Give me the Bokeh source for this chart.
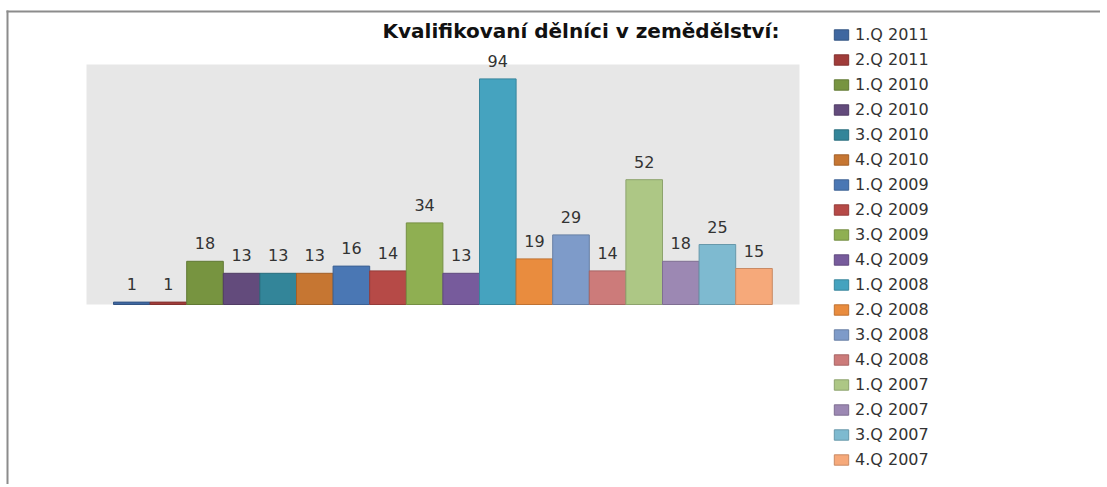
from bokeh.plotting import figure
from bokeh.models import (ColumnDataSource, Range1d, Legend, LegendItem, Label,
                          BoxAnnotation)
from bokeh.core.properties import value
from bokeh.embed import file_html
from bokeh.resources import INLINE

# ---- data ----
categories = ["1.Q 2011", "2.Q 2011", "1.Q 2010", "2.Q 2010", "3.Q 2010", "4.Q 2010",
              "1.Q 2009", "2.Q 2009", "3.Q 2009", "4.Q 2009", "1.Q 2008", "2.Q 2008",
              "3.Q 2008", "4.Q 2008", "1.Q 2007", "2.Q 2007", "3.Q 2007", "4.Q 2007"]
values = [1, 1, 18, 13, 13, 13, 16, 14, 34, 13, 94, 19, 29, 14, 52, 18, 25, 15]
colors = ["#3F67A0", "#A03C3A", "#779440", "#634B7C", "#338599", "#C67632",
          "#4A77B4", "#B64A47", "#8FAF52", "#775B9C", "#45A3BF", "#E98C3E",
          "#7E9BC9", "#CC7B7A", "#ADC785", "#9C88B3", "#7EBAD0", "#F6A97A"]
title_text = "Kvalifikovaní dělníci v zemědělství:"

# ---- layout (page pixels -> data units) ----
W, H = 1100, 484
OX, OY = 0, 0
BAR0_PX, BAR_W_PX = 113.0, 36.6
BASE_PY, UNIT_PY = 304.0, 2.4


def px2x(px):
    return (px - BAR0_PX) / BAR_W_PX


def py2y(py):
    return (BASE_PY - py) / UNIT_PY


def darken(hex_color, f=0.82):
    h = hex_color.lstrip("#")
    r, g, b = (int(h[i:i + 2], 16) for i in (0, 2, 4))
    return "#%02x%02x%02x" % (int(r * f), int(g * f), int(b * f))


line_colors = [darken(c) for c in colors]

source = ColumnDataSource(dict(
    x=[i + 0.5 for i in range(len(values))],
    top=values,
    label=[str(v) for v in values],
    cat=categories,
    color=colors,
    line_color=line_colors,
))

p = figure(width=W, height=H, output_backend="svg", toolbar_location=None, tools="",
           x_range=Range1d(px2x(OX), px2x(OX + W)),
           y_range=Range1d(py2y(OY + H), py2y(OY)),
           x_axis_type=None, y_axis_type=None, min_border=0,
           background_fill_color="white", border_fill_color="white")
p.outline_line_color = None
p.xgrid.visible = False
p.ygrid.visible = False

# plot-area background
p.add_layout(BoxAnnotation(left=px2x(86), right=px2x(799), bottom=0, top=py2y(64),
                           fill_color="#E7E7E7", fill_alpha=1.0, line_color=None,
                           level="underlay"))

r = p.vbar(x="x", top="top", bottom=0, width=1.0, source=source,
           fill_color="color", line_color="line_color", line_width=1)

p.text(x="x", y="top", text="label", source=source, text_align="center",
       text_baseline="alphabetic", y_offset=-18, text_font=value("DejaVu Sans"),
       text_font_size="16px", text_color="#333333")

# title
p.add_layout(Label(x=px2x(580.5), y=py2y(30.5), text=title_text, text_align="center",
                   text_baseline="alphabetic", text_font="DejaVu Sans",
                   text_font_style="bold", text_font_size="20px", text_color="#111111"))

# legend (location = left, bottom in screen px)
items = [LegendItem(label=c, renderers=[r], index=i) for i, c in enumerate(categories)]
legend = Legend(items=items, location=(832 - OX, (OY + H) - 469), orientation="vertical",
                glyph_width=18, glyph_height=13, label_height=20, spacing=5,
                label_standoff=5, padding=0, margin=0,
                label_text_font="DejaVu Sans", label_text_font_size="16px",
                label_text_color="#333333", border_line_color=None,
                background_fill_alpha=0.0)
p.add_layout(legend)

# outer border (top and left)
p.add_layout(BoxAnnotation(left=px2x(6), right=px2x(8), top=py2y(10), bottom=py2y(OY + H),
                           fill_color="#8C8C8C", fill_alpha=1.0, line_color=None))
p.add_layout(BoxAnnotation(left=px2x(6), right=px2x(OX + W), top=py2y(10), bottom=py2y(12),
                           fill_color="#8C8C8C", fill_alpha=1.0, line_color=None))

open("out.html", "w").write(file_html(p, INLINE))
